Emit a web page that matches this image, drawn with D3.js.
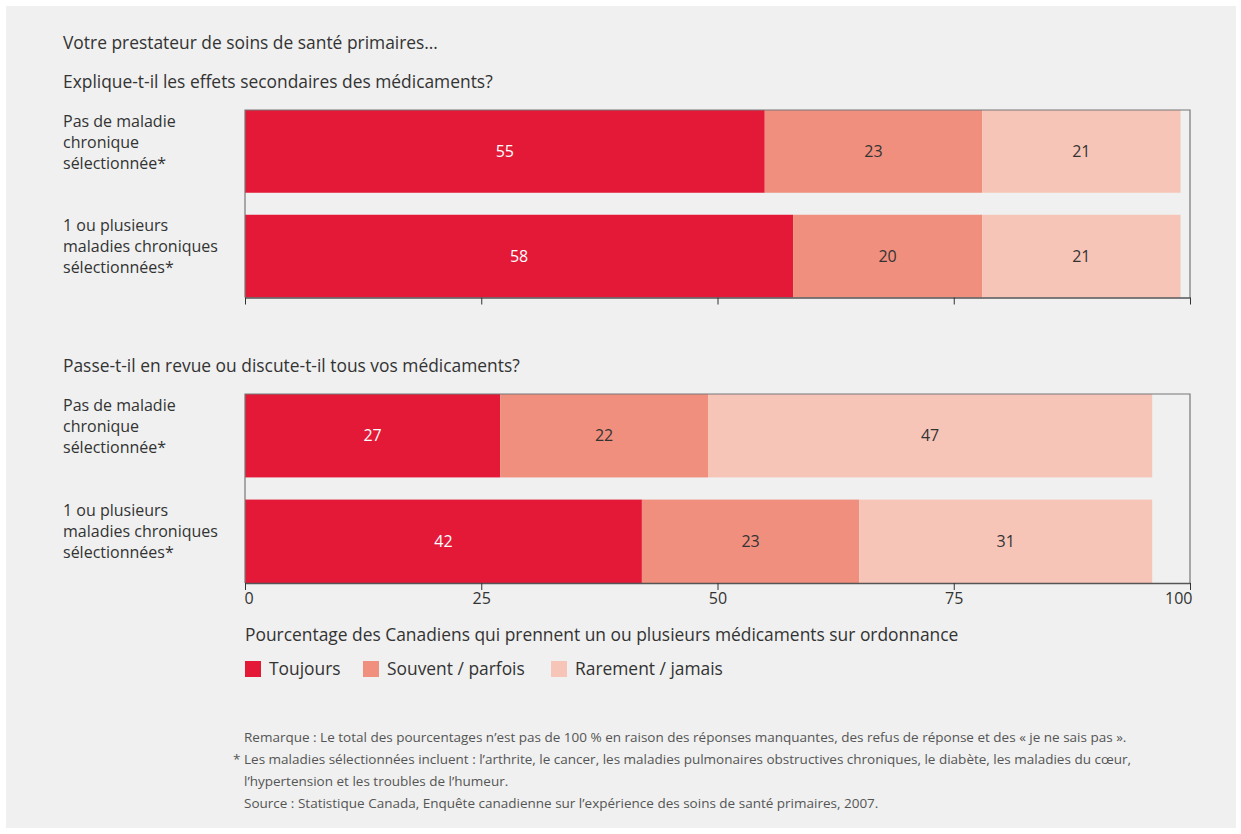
<!DOCTYPE html>
<html>
<head>
<meta charset="utf-8">
<script src="https://cdn.jsdelivr.net/npm/d3@7"></script>
<style>
  html, body { margin: 0; padding: 0; background: #ffffff; }
  svg { display: block; }
  text { font-family: "Open Sans", "Noto Sans", sans-serif; }
</style>
</head>
<body>
<svg id="chart" width="1241" height="834"></svg>
<script>
// Survey responses, percent of Canadians taking one or more prescription drugs
const groups = ["Pas de maladie|chronique|sélectionnée*", "1 ou plusieurs|maladies chroniques|sélectionnées*"];
const series = ["Toujours", "Souvent / parfois", "Rarement / jamais"];
const questions = [
  "Explique-t-il les effets secondaires des médicaments?",
  "Passe-t-il en revue ou discute-t-il tous vos médicaments?"
];
const sideEffects = [[55, 23, 21], [58, 20, 21]];
const reviewAll = [[27, 22, 47], [42, 23, 31]];
const ticks = [0, 25, 50, 75, 100];
const notes = [
  "Remarque : Le total des pourcentages n’est pas de 100 % en raison des réponses manquantes, des refus de réponse et des « je ne sais pas ».",
  "Les maladies sélectionnées incluent : l’arthrite, le cancer, les maladies pulmonaires obstructives chroniques, le diabète, les maladies du cœur,",
  "l’hypertension et les troubles de l’humeur.",
  "Source : Statistique Canada, Enquête canadienne sur l’expérience des soins de santé primaires, 2007."
];

const colors = ["#e31937", "#f08f7e", "#f7c5b8"];
const textColors = ["#ffffff", "#333333", "#333333"];
const HEAD = 17.4, ROW = 16, VAL = 16, NOTE = 13.5;

const svg = d3.select("#chart");
svg.append("rect").attr("x", 6).attr("y", 6).attr("width", 1230).attr("height", 822).attr("fill", "#eff0ef");

const x = d3.scaleLinear().domain([0, 100]).range([245, 1190]);

function label(tx, ty, size, str, fill) {
  return svg.append("text").attr("x", tx).attr("y", ty).attr("dy", "0.35em")
    .attr("font-size", size).attr("fill", fill || "#333").text(str);
}

label(63, 43, HEAD, "Votre prestateur de soins de santé primaires…");

function panel(title, titleY, top, bottom, data, showLabels) {
  label(63, titleY, HEAD, title);

  const y = d3.scaleBand().domain(d3.range(data.length)).range([top, bottom]).paddingInner(0.21).paddingOuter(0);
  const g = svg.append("g");

  data.forEach((vals, i) => {
    let acc = 0;
    vals.forEach((v, j) => {
      const x0 = acc;
      acc += v;
      g.append("rect").attr("x", x(x0)).attr("y", y(i)).attr("width", x(acc) - x(x0)).attr("height", y.bandwidth())
        .attr("fill", colors[j]);
      g.append("text").attr("x", (x(x0) + x(acc)) / 2).attr("y", y(i) + y.bandwidth() / 2)
        .attr("dy", "0.35em").attr("text-anchor", "middle").attr("font-size", VAL).attr("fill", textColors[j])
        .text(v);
    });
    groups[i].split("|").forEach((ln, k) => label(63, y(i) + 11 + k * 21, ROW, ln));
  });

  // frame: left, top and right edges
  svg.append("path").attr("d", `M${x(0)},${bottom}V${top}H${x(100)}V${bottom}`)
    .attr("fill", "none").attr("stroke", "#777").attr("stroke-width", 1.2);

  const axis = d3.axisBottom(x).tickValues(ticks).tickSize(7).tickSizeOuter(0)
    .tickFormat(showLabels ? d3.format("d") : () => "");
  const ax = svg.append("g").attr("transform", `translate(0,${bottom})`).call(axis);
  ax.select(".domain").attr("stroke", "#555").attr("stroke-width", 1.5);
  ax.selectAll(".tick line").attr("stroke", "#333");
  ax.selectAll(".tick text").attr("font-size", VAL).attr("fill", "#333")
    .attr("font-family", "Open Sans, Noto Sans, sans-serif").attr("y", 10)
    .attr("text-anchor", d => d === 0 ? "start" : d === 100 ? "end" : "middle")
    .attr("dx", d => d === 0 ? -1 : d === 100 ? 2 : 0);
}

panel(questions[0], 82, 110, 297.5, sideEffects, false);
panel(questions[1], 366, 394, 583, reviewAll, true);

label(245, 635, HEAD, "Pourcentage des Canadiens qui prennent un ou plusieurs médicaments sur ordonnance");

// legend
const legendX = [245, 363, 551];
series.forEach((s, j) => {
  svg.append("rect").attr("x", legendX[j]).attr("y", 661).attr("width", 16).attr("height", 16).attr("fill", colors[j]);
  label(legendX[j] + 24, 669, HEAD, s);
});

// notes
const noteY = [737, 759, 781, 803];
notes.forEach((n, k) => label(244, noteY[k], NOTE, n, "#555"));
label(233, 759, NOTE, "*", "#555");
</script>
</body>
</html>
